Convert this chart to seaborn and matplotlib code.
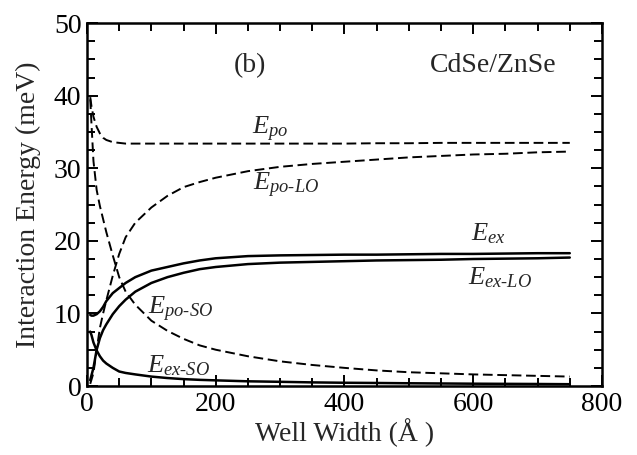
import matplotlib
matplotlib.use("Agg")
import matplotlib.pyplot as plt
import seaborn as sns
import pandas as pd
from matplotlib.ticker import MultipleLocator

# Data (well width in Angstrom, energy in meV)
well_width = [5, 7, 10, 15, 20, 25, 30, 40, 50, 60, 75, 100, 125, 150, 175, 200,
              250, 300, 350, 400, 450, 500, 550, 600, 650, 700, 750]
E_po = [39.8, 38.5, 37.1, 35.7, 34.8, 34.2, 33.9, 33.6, 33.5, 33.4, 33.4, 33.4, 33.4, 33.4,
        33.4, 33.4, 33.4, 33.4, 33.4, 33.4, 33.45, 33.45, 33.5, 33.5, 33.5, 33.5, 33.5]
E_po_LO = [0.3, 0.9, 1.8, 5.0, 8.0, 10.0, 11.8, 15.2, 18.2, 20.5, 22.5, 24.6, 26.2, 27.4,
           28.1, 28.7, 29.6, 30.2, 30.6, 30.9, 31.2, 31.5, 31.7, 31.9, 32.0, 32.2, 32.3]
E_po_SO = [39.5, 36.0, 31.0, 27.0, 24.8, 23.0, 21.2, 18.0, 15.0, 13.0, 11.2, 9.0, 7.6, 6.5,
           5.6, 5.0, 4.1, 3.4, 2.9, 2.5, 2.15, 1.9, 1.75, 1.6, 1.5, 1.4, 1.3]
E_ex = [9.8, 9.7, 9.7, 9.9, 10.3, 10.9, 11.7, 12.8, 13.5, 14.2, 15.0, 15.9, 16.4, 16.9,
        17.3, 17.6, 17.9, 18.0, 18.05, 18.1, 18.1, 18.15, 18.2, 18.2, 18.25, 18.3, 18.3]
E_ex_LO = [0.8, 1.5, 2.5, 5.0, 6.6, 7.7, 8.5, 9.9, 11.0, 11.9, 13.0, 14.2, 15.0, 15.6,
           16.1, 16.4, 16.8, 17.0, 17.1, 17.2, 17.3, 17.35, 17.4, 17.5, 17.55, 17.6, 17.7]
E_ex_SO = [7.5, 7.0, 6.0, 4.9, 4.1, 3.5, 3.1, 2.5, 2.0, 1.8, 1.6, 1.3, 1.1, 0.95,
           0.85, 0.78, 0.65, 0.58, 0.5, 0.45, 0.42, 0.38, 0.35, 0.32, 0.3, 0.28, 0.25]

x_ticks = [0, 200, 400, 600, 800]
y_ticks = [0, 10, 20, 30, 40, 50]

sns.set_style("ticks")
plt.rcParams['font.family'] = ['Liberation Serif', 'DejaVu Serif']
plt.rcParams['mathtext.fontset'] = 'custom'
plt.rcParams['mathtext.rm'] = 'Liberation Serif'
plt.rcParams['mathtext.it'] = 'Liberation Serif:italic'

fig = plt.figure(figsize=(6.37, 4.55), dpi=100)
ax = fig.add_axes([0.1366, 0.1516, 0.8084, 0.7976])

solid = [E_ex, E_ex_LO, E_ex_SO]
dashed = [E_po, E_po_LO, E_po_SO]
for s in solid:
    sns.lineplot(x=well_width, y=s, ax=ax, color='black', lw=1.8, estimator=None)
for s in dashed:
    sns.lineplot(x=well_width, y=s, ax=ax, color='black', lw=1.4, estimator=None,
                 linestyle=(0, (5.0, 2.4)))

ax.set_xlim(0, 800)
ax.set_ylim(0, 50)
ax.set_xticks(x_ticks)
ax.set_yticks(y_ticks)
ax.xaxis.set_minor_locator(MultipleLocator(50))
ax.yaxis.set_minor_locator(MultipleLocator(2.5))
ax.tick_params(which='both', direction='in', top=True, right=True, width=1.4,
               color='black', labelsize=20, labelcolor='black')
ax.tick_params(which='major', length=8, pad=4)
ax.tick_params(which='minor', length=6)
for sp in ax.spines.values():
    sp.set_linewidth(1.8)
    sp.set_color('black')

ax.set_xlabel('Well Width (Å )', fontsize=20, labelpad=1)
ax.set_ylabel('Interaction Energy (meV)', fontsize=20, labelpad=9)

ax.text(253, 44.2, '(b)', fontsize=20, ha='center', va='center')
ax.text(729, 44.2, 'CdSe/ZnSe', fontsize=20, ha='right', va='center')
lab = dict(fontsize=19, va='center', ha='left')
ax.text(256, 35.4, r'$E_{po}$', **lab)
ax.text(258, 27.6, r'$E_{po\text{-}LO}$', **lab)
ax.text(597, 21.0, r'$E_{ex}$', **lab)
ax.text(592, 14.9, r'$E_{ex\text{-}LO}$', **lab)
ax.text(95, 10.6, r'$E_{po\text{-}SO}$', **lab)
ax.text(93, 2.8, r'$E_{ex\text{-}SO}$', **lab)

fig.savefig('out.png', dpi=100)
